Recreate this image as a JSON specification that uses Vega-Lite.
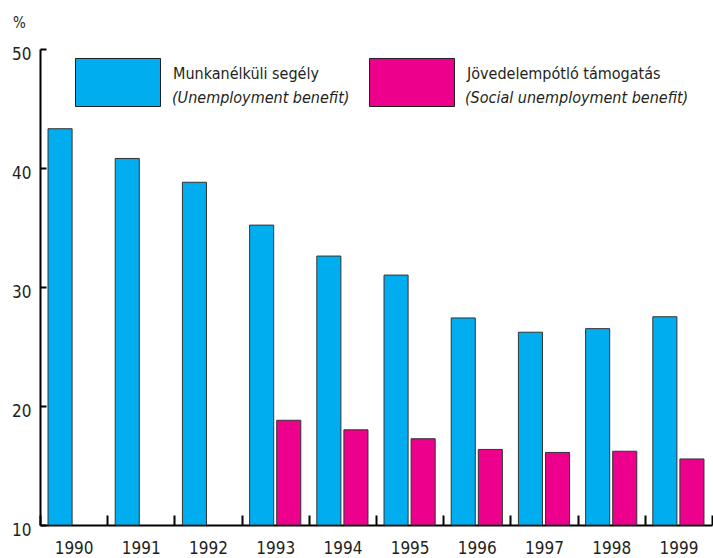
{
  "$schema": "https://vega.github.io/schema/vega-lite/v6.json",
  "width": 672,
  "height": 476,
  "autosize": {"type": "none"},
  "padding": {"left": 40, "top": 49, "right": 1, "bottom": 33},
  "background": "white",
  "config": {
    "view": {"stroke": null},
    "font": "DejaVu Sans Condensed, sans-serif"
  },
  "data": {
    "values": [
      {"year": "1990", "series": "Munkanélküli segély", "series_en": "(Unemployment benefit)", "value": 43.3},
      {"year": "1991", "series": "Munkanélküli segély", "series_en": "(Unemployment benefit)", "value": 40.8},
      {"year": "1992", "series": "Munkanélküli segély", "series_en": "(Unemployment benefit)", "value": 38.8},
      {"year": "1993", "series": "Munkanélküli segély", "series_en": "(Unemployment benefit)", "value": 35.2},
      {"year": "1994", "series": "Munkanélküli segély", "series_en": "(Unemployment benefit)", "value": 32.6},
      {"year": "1995", "series": "Munkanélküli segély", "series_en": "(Unemployment benefit)", "value": 31.0},
      {"year": "1996", "series": "Munkanélküli segély", "series_en": "(Unemployment benefit)", "value": 27.4},
      {"year": "1997", "series": "Munkanélküli segély", "series_en": "(Unemployment benefit)", "value": 26.2},
      {"year": "1998", "series": "Munkanélküli segély", "series_en": "(Unemployment benefit)", "value": 26.5},
      {"year": "1999", "series": "Munkanélküli segély", "series_en": "(Unemployment benefit)", "value": 27.5},
      {"year": "1993", "series": "Jövedelempótló támogatás", "series_en": "(Social unemployment benefit)", "value": 18.8},
      {"year": "1994", "series": "Jövedelempótló támogatás", "series_en": "(Social unemployment benefit)", "value": 18.0},
      {"year": "1995", "series": "Jövedelempótló támogatás", "series_en": "(Social unemployment benefit)", "value": 17.25},
      {"year": "1996", "series": "Jövedelempótló támogatás", "series_en": "(Social unemployment benefit)", "value": 16.35},
      {"year": "1997", "series": "Jövedelempótló támogatás", "series_en": "(Social unemployment benefit)", "value": 16.1},
      {"year": "1998", "series": "Jövedelempótló támogatás", "series_en": "(Social unemployment benefit)", "value": 16.2},
      {"year": "1999", "series": "Jövedelempótló támogatás", "series_en": "(Social unemployment benefit)", "value": 15.55}
    ]
  },
  "mark": {"type": "bar", "stroke": "#333333", "strokeWidth": 1},
  "encoding": {
    "x": {
      "field": "year",
      "type": "nominal",
      "scale": {"paddingInner": 0, "paddingOuter": 0},
      "axis": {
        "title": null,
        "labelAngle": 0,
        "labelFontSize": 17,
        "labelColor": "#231F20",
        "labelPadding": 25,
        "tickBand": "extent",
        "tickSize": -10,
        "tickWidth": 2,
        "tickColor": "#000000",
        "domainColor": "#000000",
        "domainWidth": 2
      }
    },
    "xOffset": {
      "field": "series",
      "type": "nominal",
      "scale": {"domain": ["Munkanélküli segély", "Jövedelempótló támogatás"], "paddingInner": 0.111, "paddingOuter": 0.296}
    },
    "y": {
      "field": "value",
      "type": "quantitative",
      "scale": {"domain": [10, 50], "zero": false, "nice": false},
      "axis": {
        "title": "%",
        "titleAngle": 0,
        "titleX": -21,
        "titleY": -27,
        "titleAlign": "center",
        "titleBaseline": "middle",
        "titleFontSize": 15,
        "titleFontWeight": "normal",
        "titleColor": "#231F20",
        "values": [10, 20, 30, 40, 50],
        "grid": false,
        "labelFontSize": 17,
        "labelColor": "#231F20",
        "labelPadding": 15,
        "labelOffset": 5,
        "tickSize": -6,
        "tickWidth": 2,
        "tickColor": "#000000",
        "domainColor": "#000000",
        "domainWidth": 2
      }
    },
    "y2": {"datum": 10},
    "color": {
      "field": "series",
      "type": "nominal",
      "scale": {"domain": ["Munkanélküli segély", "Jövedelempótló támogatás"], "range": ["#00AEEF", "#EC008C"]},
      "legend": {
        "title": null,
        "orient": "none",
        "legendX": 35,
        "legendY": -10,
        "direction": "horizontal",
        "columns": 2,
        "columnPadding": 48,
        "padding": 0,
        "symbolType": "M-1,-0.565L1,-0.565L1,0.565L-1,0.565Z",
        "symbolSize": 7225,
        "symbolStrokeColor": "#231F20",
        "symbolStrokeWidth": 1,
        "symbolOpacity": 1,
        "labelOffset": 12,
        "labelFontSize": 16,
        "labelColor": "#231F20",
        "labelBaseline": "bottom",
        "labelLimit": 400
      }
    },
    "opacity": {
      "field": "series_en",
      "type": "nominal",
      "scale": {"domain": ["(Unemployment benefit)", "(Social unemployment benefit)"], "range": [1, 1]},
      "legend": {
        "title": null,
        "orient": "none",
        "legendX": 35,
        "legendY": 14,
        "direction": "horizontal",
        "columns": 2,
        "columnPadding": 18,
        "padding": 0,
        "symbolType": "M-1,-0.565L1,-0.565L1,0.565L-1,0.565Z",
        "symbolSize": 7225,
        "symbolOpacity": 0,
        "symbolStrokeWidth": 0,
        "symbolFillColor": "transparent",
        "labelOffset": 12,
        "labelFontSize": 16,
        "labelFontStyle": "italic",
        "labelColor": "#231F20",
        "labelBaseline": "bottom",
        "labelLimit": 400
      }
    }
  }
}
